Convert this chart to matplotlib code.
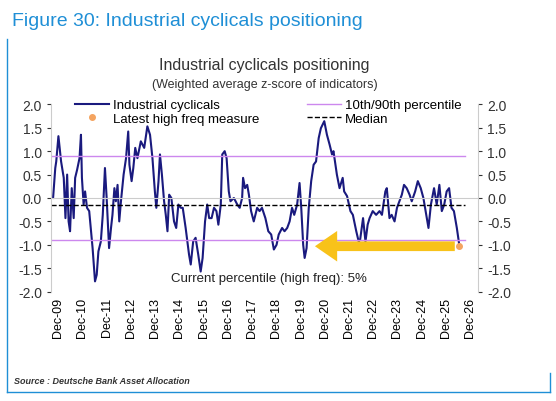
import matplotlib.pyplot as plt
from matplotlib.lines import Line2D

plt.rcParams.update({'font.family': 'Liberation Sans', 'font.size': 10})

years = [2009.71, 2009.80, 2009.84, 2009.93, 2010.04, 2010.15, 2010.22, 2010.29, 2010.35, 2010.41,
         2010.48, 2010.56, 2010.62, 2010.70, 2010.80, 2010.86, 2010.90, 2010.97, 2011.03, 2011.11,
         2011.20, 2011.34, 2011.44, 2011.51, 2011.58, 2011.68, 2011.76, 2011.85, 2011.92, 2012.02,
         2012.10, 2012.16, 2012.24, 2012.30, 2012.37, 2012.44, 2012.51, 2012.62, 2012.72, 2012.81,
         2012.86, 2012.95, 2013.02, 2013.10, 2013.19, 2013.33, 2013.47, 2013.60, 2013.71, 2013.81,
         2013.91, 2013.97, 2014.06, 2014.12, 2014.20, 2014.29, 2014.36, 2014.43, 2014.50, 2014.59,
         2014.70, 2014.79, 2014.88, 2014.98, 2015.06, 2015.18, 2015.32, 2015.39, 2015.49, 2015.59,
         2015.70, 2015.80, 2015.88, 2015.98, 2016.07, 2016.15, 2016.25, 2016.35, 2016.45, 2016.53,
         2016.63, 2016.69, 2016.79, 2016.87, 2016.96, 2017.03, 2017.17, 2017.31, 2017.41, 2017.51,
         2017.55, 2017.63, 2017.72, 2017.79, 2017.88, 2017.99, 2018.13, 2018.23, 2018.33, 2018.47,
         2018.59, 2018.71, 2018.82, 2018.93, 2019.02, 2019.16, 2019.26, 2019.37, 2019.47, 2019.57,
         2019.66, 2019.78, 2019.88, 2019.95, 2020.03, 2020.09, 2020.17, 2020.26, 2020.36, 2020.46,
         2020.56, 2020.67, 2020.76, 2020.90, 2021.01, 2021.12, 2021.22, 2021.28, 2021.42, 2021.53,
         2021.66, 2021.72, 2021.84, 2021.98, 2022.08, 2022.22, 2022.32, 2022.38, 2022.50, 2022.60,
         2022.69, 2022.77, 2022.90, 2023.04, 2023.18, 2023.28, 2023.42, 2023.48, 2023.59, 2023.68,
         2023.80, 2023.90, 2024.00, 2024.10, 2024.19, 2024.30, 2024.42, 2024.51, 2024.65, 2024.76,
         2024.88, 2024.99, 2025.13, 2025.20, 2025.30, 2025.43, 2025.54, 2025.65, 2025.75, 2025.85,
         2025.95, 2026.05, 2026.15, 2026.25, 2026.37, 2026.47]
values = [0.00, 0.64, 0.78, 1.32, 0.78, 0.43, -0.43, 0.50, -0.50, -0.71,
          0.21, -0.43, 0.43, 0.60, 0.85, 1.35, 0.43, -0.14, 0.14, -0.21,
          -0.28, -1.07, -1.78, -1.64, -1.14, -0.93, -0.36, 0.64, 0.00, -1.07,
          -0.64, -0.36, 0.21, -0.07, 0.28, -0.50, -0.07, 0.50, 0.85, 1.42,
          0.71, 0.36, 0.64, 1.07, 0.85, 1.21, 1.07, 1.53, 1.35, 0.85,
          0.14, -0.21, 0.36, 0.93, 0.50, -0.07, -0.36, -0.71, 0.07, 0.00,
          -0.50, -0.64, -0.14, -0.21, -0.21, -0.64, -1.21, -1.42, -0.93, -0.85,
          -1.21, -1.57, -1.28, -0.50, -0.14, -0.43, -0.43, -0.21, -0.28, -0.57,
          -0.14, 0.93, 1.00, 0.85, 0.14, -0.07, 0.00, -0.14, -0.21, 0.00,
          0.43, 0.21, 0.28, 0.07, -0.28, -0.50, -0.21, -0.28, -0.21, -0.43,
          -0.71, -0.78, -1.10, -1.00, -0.78, -0.64, -0.71, -0.64, -0.50, -0.21,
          -0.36, -0.14, 0.32, -0.21, -1.00, -1.28, -1.07, -0.21, 0.36, 0.71,
          0.78, 1.28, 1.49, 1.64, 1.35, 1.14, 0.93, 1.00, 0.50, 0.21,
          0.43, 0.14, 0.04, -0.28, -0.36, -0.71, -0.93, -0.89, -0.43, -0.93,
          -0.57, -0.43, -0.28, -0.36, -0.28, -0.36, 0.14, 0.21, -0.43, -0.36,
          -0.50, -0.21, -0.07, 0.07, 0.28, 0.21, 0.07, -0.07, 0.14, 0.36,
          0.21, 0.00, -0.43, -0.64, -0.14, 0.21, -0.14, 0.28, -0.28, -0.14,
          0.14, 0.21, -0.21, -0.28, -0.64, -1.00]

latest_year = 2026.47
latest_value = -1.03
p10, p90 = -0.9, 0.9
median = -0.15
arrow_start = 2026.4
arrow_end = 2020.4
tick_years = list(range(2009, 2027))
tick_labels = ["Dec-%02d" % (y % 100) for y in tick_years]

fig = plt.figure(figsize=(5.56, 4.02), dpi=100)
fig.text(0.022, 0.935, "Figure 30: Industrial cyclicals positioning", color="#1f8fd6", fontsize=14)
fig.add_artist(Line2D([0.012, 0.012], [0.022, 0.90], color="#1f8fd6", lw=1))
fig.add_artist(Line2D([0.012, 0.99], [0.022, 0.022], color="#1f8fd6", lw=1))
fig.add_artist(Line2D([0.99, 0.99], [0.022, 0.07], color="#1f8fd6", lw=1))
fig.text(0.025, 0.045, "Source : Deutsche Bank Asset Allocation", fontsize=6.5, style="italic", fontweight="bold", color="#333333")

ax = fig.add_axes([0.092, 0.272, 0.768, 0.466])
ax.plot(years, values, color="#1a1a7e", lw=1.5, label="Industrial cyclicals")
ax.plot([latest_year], [latest_value], "o", color="#f4a460", ms=4, label="Latest high freq measure")
ax.axhline(p90, xmax=0.97, color="#cc88ee", lw=1, label="10th/90th percentile")
ax.axhline(p10, xmax=0.97, color="#cc88ee", lw=1)
ax.axhline(median, xmax=0.97, color="black", ls="--", lw=1, label="Median")
ax.axhline(0, color="#cccccc", lw=0.8)
ax.annotate("", xy=(arrow_end, latest_value), xytext=(arrow_start, latest_value),
            arrowprops=dict(arrowstyle="simple,head_width=2.2,head_length=1.6,tail_width=0.7",
                            color="#f8c21a", lw=0))
ax.text(2018.6, -1.77, "Current percentile (high freq): 5%", ha="center", fontsize=9.5, color="#222222")

ax.set_xlim(2009.63, 2027.25)
ax.set_ylim(-2, 2)
ax.set_yticks([-2, -1.5, -1, -0.5, 0, 0.5, 1, 1.5, 2])
ax.yaxis.set_major_formatter(plt.FuncFormatter(lambda v, p: "%.1f" % v))
ax.tick_params(axis="y", which="both", right=True, labelright=True, labelsize=10, colors="#333333", length=3)
ax.set_xticks([y + 0.92 for y in tick_years])
ax.set_xticklabels(tick_labels, rotation=90, fontsize=9)
ax.tick_params(axis="x", length=0, pad=4)
for s in ["top", "bottom"]:
    ax.spines[s].set_visible(False)
for s in ["left", "right"]:
    ax.spines[s].set_color("#cccccc")

fig.text(0.476, 0.825, "Industrial cyclicals positioning", ha="center", fontsize=11.5, color="#333333")
fig.text(0.476, 0.782, "(Weighted average z-score of indicators)", ha="center", fontsize=9, color="#333333")
ax.legend(ncol=2, loc="lower left", bbox_to_anchor=(0.04, 0.855), frameon=False, fontsize=9.5,
          columnspacing=3.6, handlelength=2.6, labelspacing=0.1, borderpad=0, handletextpad=0.3)

plt.savefig("out.png", dpi=100)
